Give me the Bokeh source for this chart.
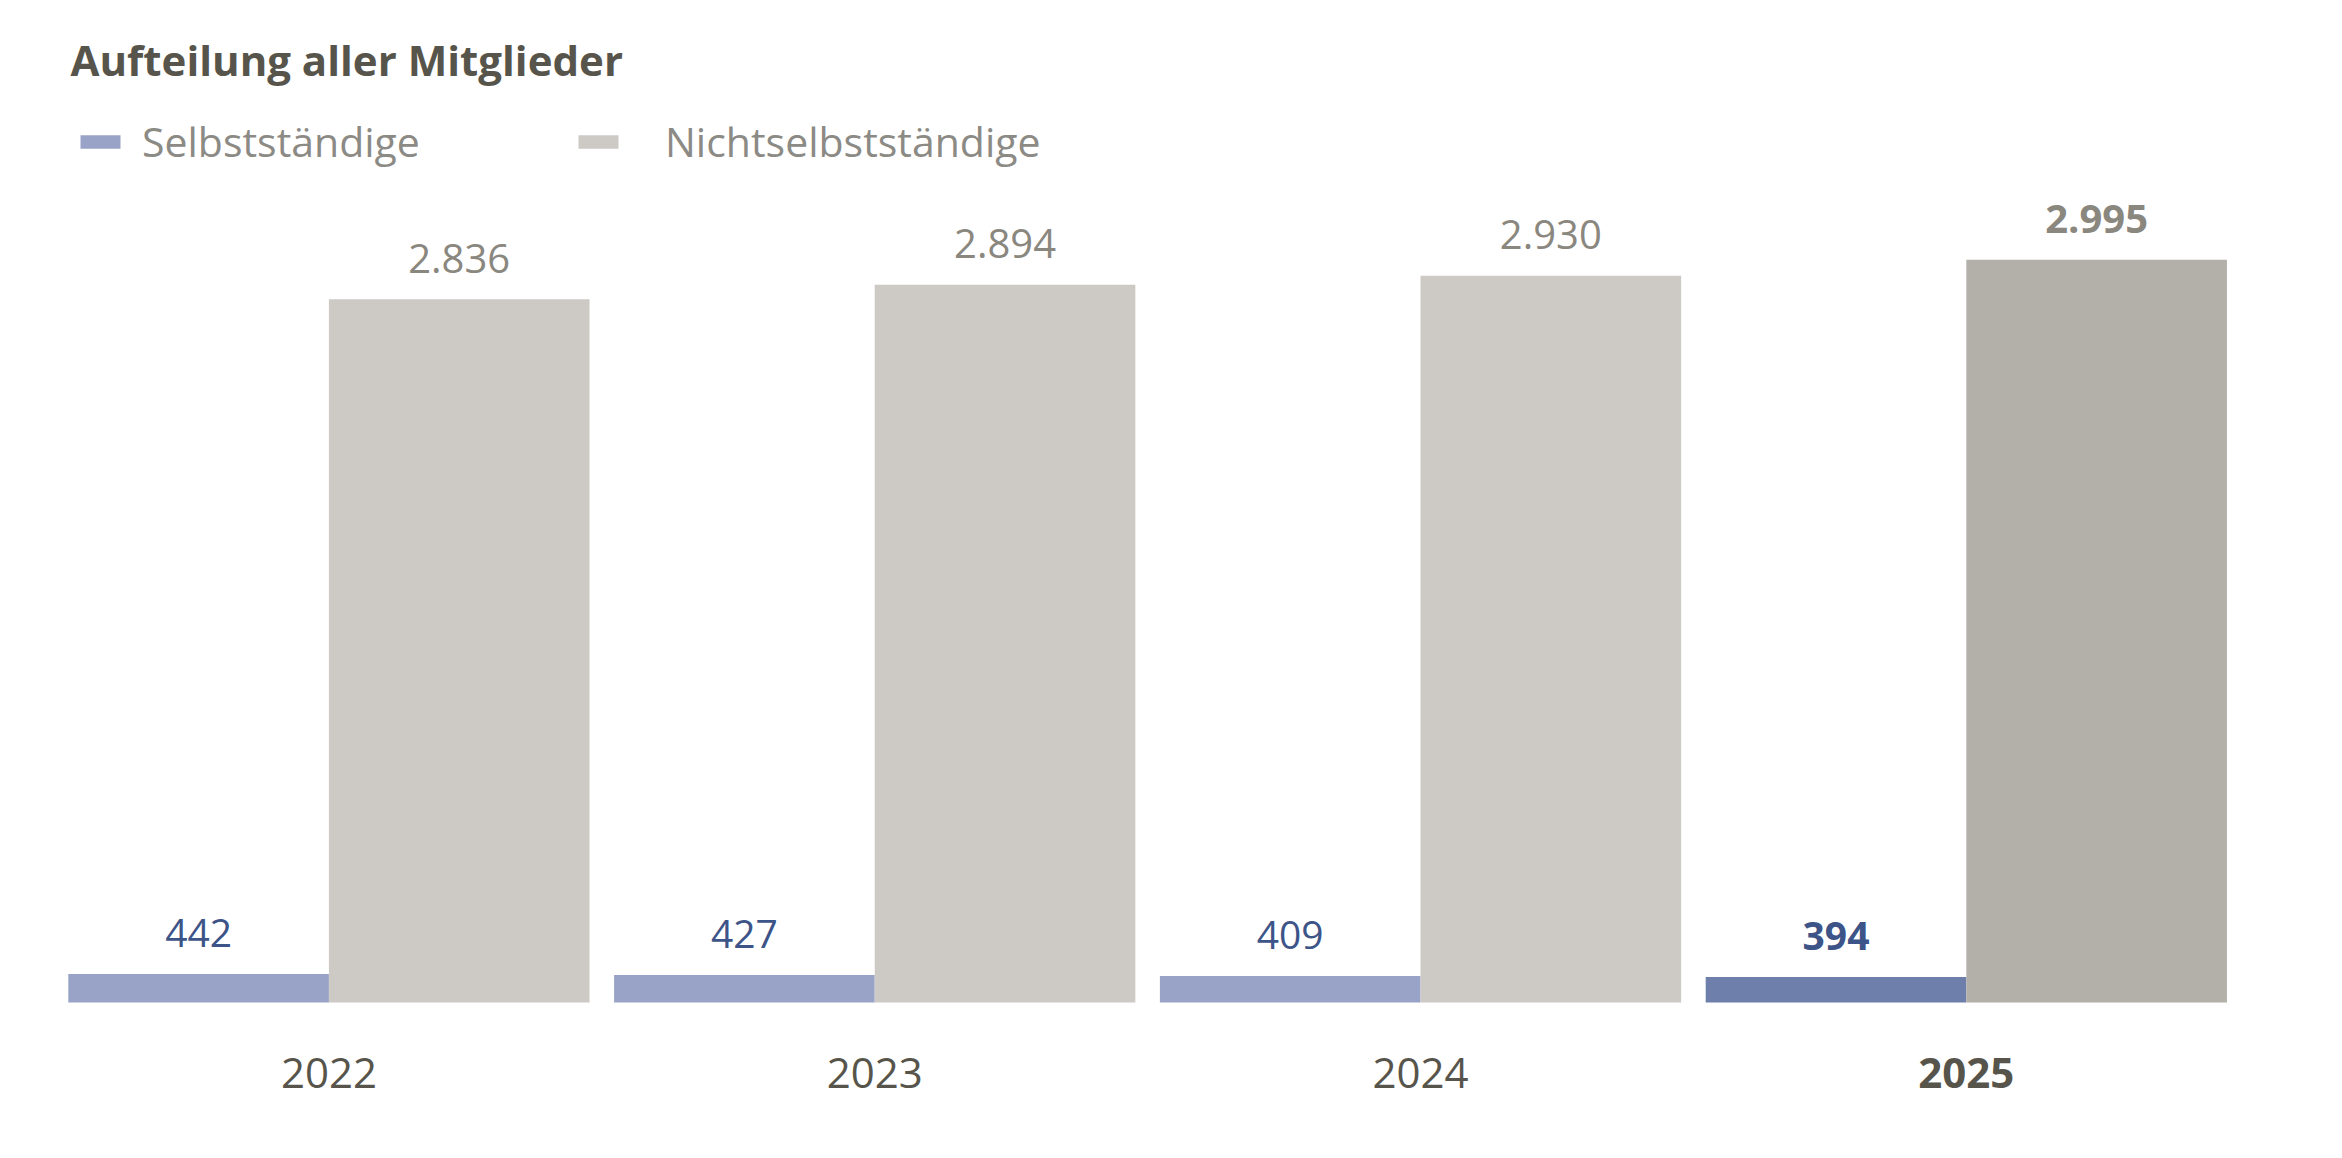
from bokeh.plotting import figure
from bokeh.models import ColumnDataSource, Range1d, Label, Legend, LegendItem
from bokeh.core.properties import value
from bokeh.transform import dodge
from bokeh.embed import file_html
from bokeh.resources import INLINE

# ---- data ----
years = ["2022", "2023", "2024", "2025"]
selbststaendige = [442, 427, 409, 394]
nichtselbststaendige = [2836, 2894, 2930, 2995]
highlight_year = "2025"
title_text = "Aufteilung aller Mitglieder"
series_names = ["Selbstständige", "Nichtselbstständige"]

# ---- styles ----
FONT = "Open Sans"
S_COL, S_COL_HI = "#99A3C7", "#6E7FAC"
N_COL, N_COL_HI = "#CDCAC5", "#B3B0AA"
S_TXT, N_TXT = "#3D5488", "#8A877F"
AX_TXT = "#57554B"
LEG_TXT = "#8C8A85"


def fmt(v):
    return f"{v:,}".replace(",", ".")


idx = list(range(len(years)))
hi = [y == highlight_year for y in years]
src = ColumnDataSource(dict(
    x=idx,
    year=years,
    s=selbststaendige,
    n=nichtselbststaendige,
    s_label=[fmt(v) for v in selbststaendige],
    n_label=[fmt(v) for v in nichtselbststaendige],
    s_color=[S_COL_HI if h else S_COL for h in hi],
    n_color=[N_COL_HI if h else N_COL for h in hi],
    fstyle=["bold" if h else "normal" for h in hi],
))

W, H = 2326, 1142
p = figure(width=W, height=H, output_backend="svg", toolbar_location=None,
           title=None, x_axis_location=None, y_axis_location=None,
           x_range=Range1d(-0.6017, 3.6599), y_range=Range1d(-564.5, 4040.3),
           min_border=0, min_border_left=0, min_border_right=0,
           min_border_top=0, min_border_bottom=0)
p.extra_y_ranges = {"selbst": Range1d(-2170.5, 15534.9)}
p.grid.visible = False
p.outline_line_color = None
p.background_fill_color = "white"
p.border_fill_color = "white"

BW = 0.4775
OFF = BW / 2

r_s = p.vbar(x=dodge("x", -OFF), top="s", bottom=0, width=BW, source=src,
             y_range_name="selbst", fill_color="s_color", line_color=None)
r_n = p.vbar(x=dodge("x", OFF), top="n", bottom=0, width=BW, source=src,
             fill_color="n_color", line_color=None)

p.text(x=dodge("x", -OFF), y="s", text="s_label", source=src, y_range_name="selbst",
       y_offset=-41, text_align="center", text_baseline="alphabetic",
       text_font=value(FONT), text_font_size="39px", text_font_style="fstyle",
       text_color=S_TXT)
p.text(x=dodge("x", OFF), y="n", text="n_label", source=src,
       y_offset=-41, text_align="center", text_baseline="alphabetic",
       text_font=value(FONT), text_font_size="40px", text_font_style="fstyle",
       text_color=N_TXT)
p.text(x="x", y=0, text="year", source=src,
       y_offset=70, text_align="center", text_baseline="alphabetic",
       text_font=value(FONT), text_font_size="42px", text_font_style="fstyle",
       text_color=AX_TXT)

p.add_layout(Label(x=70, y=1083, x_units="screen", y_units="screen",
                   text=title_text, text_font=FONT, text_font_size="42px",
                   text_font_style="bold", text_color=AX_TXT,
                   text_baseline="alphabetic"))


def make_legend(label, renderer, loc, standoff):
    return Legend(items=[LegendItem(label=label, renderers=[renderer], index=0)],
                  location=loc, orientation="horizontal",
                  glyph_width=50, glyph_height=17, label_standoff=standoff,
                  padding=0, margin=0, border_line_color=None,
                  background_fill_alpha=0,
                  label_text_font=FONT, label_text_font_size="41px",
                  label_text_color=LEG_TXT)


p.add_layout(make_legend(series_names[0], r_s, (75, 973), 17))
p.add_layout(make_legend(series_names[1], r_n, (573, 973), 42))

open("out.html", "w").write(file_html(p, INLINE))
